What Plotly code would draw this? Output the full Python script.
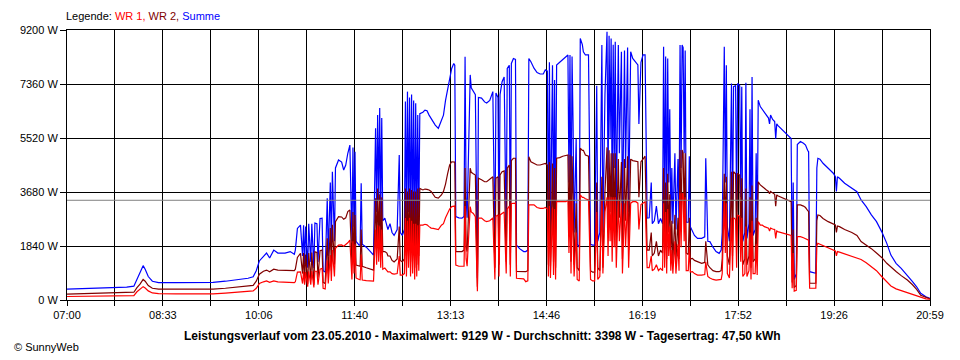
import numpy as np
import plotly.graph_objects as go

# ---- data (minutes after 07:00, power in W) ----
t_min = [0, 19, 39, 58, 65, 68, 71, 74, 76, 79,
         83, 89, 106, 125, 142, 154, 166, 176, 181, 184,
         187, 191, 194, 197, 201, 205, 212, 217, 221, 222,
         224, 227, 229, 230, 231, 232, 234, 235, 237, 238,
         240, 241, 243, 244, 246, 248, 249, 251, 253, 254,
         256, 257, 258, 260, 261, 264, 267, 269, 271, 273,
         275, 277, 278, 279, 280, 281, 284, 285, 286, 287,
         291, 295, 298, 300, 301, 302, 303, 304, 305, 306,
         307, 309, 311, 312, 314, 316, 318, 321, 323, 324,
         326, 328, 329, 330, 331, 332, 333, 334, 335, 336,
         337, 338, 339, 340, 341, 342, 343, 346, 348, 350,
         352, 354, 356, 358, 361, 364, 366, 368, 370, 372,
         374, 376, 377, 378, 381, 384, 386, 387, 388, 389,
         392, 393, 395, 397, 399, 400, 403, 406, 408, 411,
         414, 416, 417, 419, 420, 421, 423, 425, 427, 428,
         430, 431, 432, 434, 436, 437, 440, 444, 446, 448,
         449, 451, 454, 457, 460, 463, 465, 467, 468, 469,
         470, 472, 473, 474, 475, 476, 479, 482, 485, 487,
         488, 489, 490, 491, 492, 493, 495, 496, 498, 499,
         501, 502, 504, 507, 509, 511, 513, 515, 516, 518,
         520, 521, 523, 525, 526, 527, 528, 529, 530, 531,
         532, 533, 534, 536, 537, 539, 540, 542, 543, 545,
         546, 548, 550, 553, 555, 556, 558, 560, 562, 564,
         566, 568, 569, 571, 573, 575, 577, 579, 580, 581,
         582, 583, 584, 585, 586, 587, 588, 589, 591, 592,
         594, 595, 596, 597, 598, 599, 600, 601, 602, 604,
         605, 606, 608, 610, 613, 617, 620, 621, 623, 625,
         628, 631, 634, 636, 637, 639, 640, 641, 642, 644,
         646, 647, 648, 650, 651, 652, 654, 655, 656, 657,
         659, 660, 661, 663, 664, 665, 666, 667, 669, 670,
         671, 672, 674, 676, 678, 680, 682, 683, 684, 686,
         688, 689, 690, 691, 694, 697, 700, 703, 704, 705,
         706, 707, 709, 710, 713, 716, 718, 720, 721, 722,
         726, 728, 729, 730, 732, 735, 740, 745, 747, 748,
         749, 751, 756, 763, 768, 772, 777, 782, 787, 792,
         797, 801, 806, 811, 817, 822, 826, 830, 835, 839]

summe = [370, 390, 410, 440, 470, 700, 900, 1170, 1050, 800,
         640, 590, 590, 590, 600, 640, 690, 740, 790, 1000,
         1330, 1480, 1600, 1430, 1700, 1600, 1600, 1650, 1560, 1700,
         2440, 2550, 1500, 2550, 1200, 2500, 1100, 2600, 1300, 2600,
         1080, 2620, 2600, 1300, 2780, 2790, 1000, 950, 3470, 1500,
         4000, 1700, 4370, 2000, 4500, 4770, 4700, 4430, 4600, 5000,
         5280, 2000, 5200, 2500, 5050, 2000, 1870, 1870, 3980, 1900,
         1800, 1650, 1530, 5850, 3000, 6300, 3400, 6540, 2800, 6200,
         2700, 2790, 2550, 2400, 2600, 2300, 2200, 2400, 4940, 2300,
         2200, 2400, 6760, 2500, 7100, 3000, 6900, 2200, 7000, 2600,
         6800, 2000, 6700, 2500, 6300, 2700, 6350, 6400, 6470, 6450,
         6300, 6190, 6050, 5960, 5850, 6130, 6300, 6800, 7210, 7610,
         7890, 8060, 8000, 2840, 2800, 2790, 2850, 8290, 3500, 2800,
         7670, 7230, 7100, 7000, 750, 6900, 6880, 6750, 6710, 6800,
         7100, 1900, 7050, 6900, 2100, 7000, 7440, 7600, 2200, 7890,
         8000, 2000, 8060, 8230, 8200, 1870, 1750, 1650, 1650, 1700,
         8230, 8120, 7900, 7750, 7700, 7700, 7840, 7800, 2330, 8100,
         2300, 8000, 2500, 7500, 2400, 8010, 8100, 8200, 8300, 8350,
         4000, 8350, 2300, 8300, 6000, 2300, 5500, 1900, 1800, 8910,
         8700, 8460, 8350, 8350, 1900, 1870, 1870, 7300, 2000, 2300,
         8690, 2300, 7000, 9140, 4000, 9000, 5500, 8910, 3500, 8700,
         4500, 8800, 3000, 8690, 5000, 8460, 2500, 8500, 4500, 8600,
         3000, 8460, 8230, 8100, 8010, 6000, 8100, 8350, 8350, 2790,
         2800, 4000, 2600, 2700, 3200, 2600, 2780, 2600, 8630, 3000,
         8300, 2500, 8230, 4000, 6500, 2700, 4500, 2600, 5000, 2400,
         4800, 2600, 8690, 4500, 8690, 8600, 5000, 8500, 2650, 2650,
         4900, 2500, 2330, 2200, 2100, 2100, 2150, 4830, 2000, 1990,
         1800, 1650, 1590, 1700, 2300, 8630, 4000, 8000, 2500, 2000,
         7380, 2500, 7270, 7300, 3000, 7380, 7300, 3500, 7270, 2000,
         2300, 7400, 2100, 2600, 6500, 1800, 7600, 2200, 2400, 5000,
         2100, 6810, 6590, 6500, 6420, 6300, 6200, 6000, 6300, 6150,
         6080, 5500, 6000, 5950, 5850, 5740, 5650, 5560, 5500, 1000,
         4000, 700, 900, 5300, 5400, 5340, 5280, 5100, 5050, 965,
         910, 910, 4500, 4830, 4800, 4660, 4490, 4320, 4200, 3700,
         4200, 4150, 3980, 3810, 3690, 3410, 3180, 2900, 2670, 2330,
         1930, 1530, 1250, 1080, 850, 625, 450, 230, 110, 55]

wr2 = [200, 215, 230, 245, 265, 420, 540, 705, 640, 490,
       400, 370, 365, 365, 370, 400, 440, 470, 500, 640,
       880, 980, 1020, 960, 1050, 1020, 1010, 1020, 1000, 1050,
       1450, 1590, 900, 1600, 600, 1550, 550, 1600, 700, 1620,
       520, 1640, 1620, 760, 1680, 1700, 600, 560, 2100, 900,
       2450, 1000, 2560, 1200, 2670, 2840, 2830, 2750, 2800, 3010,
       3070, 1200, 3000, 1300, 2900, 1190, 1150, 1150, 2400, 1150,
       1100, 1050, 1020, 3470, 1800, 3800, 2000, 3600, 1700, 3500,
       1650, 1650, 1600, 1500, 1500, 1350, 1300, 1400, 2500, 1350,
       1300, 1400, 3800, 1500, 3700, 1700, 3800, 1300, 3750, 1500,
       3700, 1100, 3700, 1200, 3800, 1500, 3800, 3750, 3780, 3770,
       3750, 3700, 3600, 3500, 3470, 3580, 3700, 3950, 4300, 4600,
       4710, 4710, 4700, 1650, 1650, 1650, 1700, 4500, 1800, 1650,
       4490, 4350, 4300, 4260, 450, 4150, 4100, 4030, 4030, 4100,
       4200, 1100, 4150, 4200, 1200, 4260, 4370, 4400, 1300, 4490,
       4600, 1200, 4750, 4830, 4830, 970, 965, 965, 965, 1000,
       4880, 4710, 4650, 4600, 4600, 4620, 4650, 4600, 1200, 4700,
       1150, 4650, 1300, 4500, 1100, 4830, 4850, 4900, 4940, 4940,
       2200, 4950, 1300, 4900, 3500, 1200, 3300, 1100, 1000, 5170,
       5100, 5100, 4940, 4900, 1000, 950, 950, 4000, 1100, 1000,
       4200, 1100, 3700, 5200, 2300, 5100, 3000, 5000, 2000, 5000,
       2600, 5000, 1800, 4800, 2800, 4700, 1400, 4800, 2700, 4900,
       1700, 4800, 4750, 4720, 4710, 3500, 4710, 4800, 4900, 1700,
       1700, 2300, 1500, 1600, 2000, 1500, 1700, 1600, 4500, 1700,
       4000, 1400, 4300, 2300, 3600, 1500, 2700, 1300, 2900, 1300,
       2800, 1400, 5110, 2600, 5110, 5000, 2900, 5000, 1600, 1550,
       2800, 1400, 1420, 1350, 1300, 1250, 1280, 2000, 1200, 1100,
       1000, 965, 965, 1000, 1400, 4300, 2400, 4200, 1500, 1200,
       4370, 1500, 4370, 4300, 1800, 4300, 4260, 2000, 4150, 1200,
       1400, 3800, 1200, 1500, 3500, 1100, 3900, 1300, 1400, 2800,
       1300, 4030, 3920, 3850, 3810, 3750, 3700, 3620, 3700, 3650,
       3600, 3200, 3580, 3550, 3500, 3450, 3400, 3350, 3350, 600,
       2400, 420, 500, 3240, 3240, 3200, 3150, 3050, 3010, 570,
       570, 570, 2700, 2900, 2880, 2780, 2670, 2580, 2560, 2300,
       2520, 2500, 2400, 2300, 2200, 1990, 1880, 1750, 1600, 1450,
       1250, 1110, 970, 830, 680, 520, 360, 160, 80, 40]

wr1 = [120, 125, 130, 140, 150, 280, 360, 455, 410, 310,
       240, 215, 210, 205, 210, 235, 260, 290, 310, 400,
       560, 620, 650, 600, 650, 620, 600, 610, 590, 620,
       950, 960, 560, 970, 520, 950, 450, 980, 520, 990,
       430, 980, 980, 520, 1050, 1080, 400, 380, 1350, 560,
       1530, 650, 1700, 800, 1760, 1870, 1880, 1830, 1880, 1950,
       2040, 700, 2000, 900, 1900, 750, 700, 690, 1550, 680,
       660, 640, 640, 2400, 1200, 2550, 1300, 2500, 1100, 2400,
       1050, 1090, 1000, 960, 960, 900, 880, 900, 1500, 850,
       850, 900, 2790, 800, 2700, 1100, 2800, 800, 2700, 900,
       2600, 700, 2600, 800, 2550, 1000, 2550, 2550, 2580, 2560,
       2500, 2450, 2440, 2420, 2400, 2550, 2600, 2800, 2950, 3100,
       3180, 3200, 3200, 1190, 1150, 1150, 1150, 3200, 1400, 1150,
       3180, 3000, 2950, 2840, 300, 2790, 2790, 2700, 2670, 2700,
       2800, 700, 2850, 2900, 800, 2900, 2950, 3000, 900, 3100,
       3200, 800, 3290, 3290, 3300, 740, 740, 720, 625, 650,
       3240, 3240, 3240, 3150, 3120, 3120, 3150, 3100, 800, 3200,
       750, 3150, 850, 3100, 700, 3350, 3350, 3350, 3350, 3400,
       1600, 3400, 900, 3400, 2400, 800, 2300, 700, 650, 3580,
       3500, 3500, 3450, 3410, 700, 650, 650, 3000, 700, 800,
       3400, 900, 3000, 3500, 1500, 3500, 2000, 3500, 1300, 3500,
       1800, 3500, 1100, 3400, 2000, 3300, 900, 3300, 1800, 3400,
       1100, 3300, 3350, 3350, 3300, 2400, 3250, 3300, 3350, 1100,
       1100, 1500, 1000, 1050, 1200, 1000, 1080, 1000, 3300, 1100,
       3000, 900, 3100, 1500, 2500, 1000, 1700, 900, 2000, 900,
       1900, 1000, 3640, 1800, 3640, 3600, 2000, 3500, 1000, 1000,
       1800, 950, 965, 900, 850, 850, 870, 1300, 800, 750,
       700, 680, 680, 700, 900, 3400, 1600, 3300, 900, 750,
       2800, 1000, 2800, 2750, 1100, 2900, 2850, 1300, 2800, 800,
       900, 2500, 800, 1000, 2300, 700, 2700, 900, 900, 1900,
       850, 2670, 2550, 2550, 2500, 2480, 2450, 2350, 2450, 2420,
       2400, 2100, 2350, 2330, 2300, 2250, 2220, 2210, 2200, 400,
       1600, 300, 330, 2160, 2160, 2120, 2080, 2050, 2040, 400,
       400, 400, 1850, 1930, 1900, 1850, 1760, 1700, 1670, 1500,
       1650, 1630, 1570, 1500, 1430, 1380, 1270, 1150, 1000, 800,
       625, 480, 380, 320, 260, 190, 140, 80, 40, 25]

x_tick_labels = ["07:00", "08:33", "10:06", "11:40", "13:13",
                 "14:46", "16:19", "17:52", "19:26", "20:59"]
y_tick_values = [0, 1840, 3680, 5520, 7360, 9200]
average_w = 3398
span_min = 839  # 07:00 .. 20:59

title_text = ("Leistungsverlauf vom 23.05.2010 - Maximalwert: 9129 W - "
              "Durchschnitt: 3398 W - Tagesertrag: 47,50 kWh")

# ---- figure ----
# the page body has an 8px default margin, so the figure is 8px smaller
FONT = "Liberation Sans, Arial, sans-serif"
n_grid = 2 * (len(x_tick_labels) - 1) + 1
x_grid = np.linspace(0, span_min, n_grid)
x_text = [x_tick_labels[i // 2] if i % 2 == 0 else "" for i in range(n_grid)]

fig = go.Figure()
for name, vals, color in [("Summe", summe, "#0000FF"),
                          ("WR 2", wr2, "#800000"),
                          ("WR 1", wr1, "#FF0000")]:
    fig.add_trace(go.Scatter(x=t_min, y=vals, mode="lines", name=name,
                             line=dict(color=color, width=1.2),
                             showlegend=False, hoverinfo="skip"))

fig.add_shape(type="line", xref="paper", x0=0, x1=1, yref="y",
              y0=average_w, y1=average_w,
              line=dict(color="#808080", width=1), layer="above")

fig.update_layout(
    width=952, height=352,
    margin=dict(l=52, r=30, t=22, b=60),
    paper_bgcolor="white", plot_bgcolor="white",
    font=dict(family=FONT, size=11, color="black"),
    showlegend=False,
    xaxis=dict(range=[0, span_min], tickmode="array", tickvals=x_grid,
               ticktext=x_text, showgrid=True, gridcolor="black",
               gridwidth=1, zeroline=False, showline=True,
               linecolor="black", linewidth=1, mirror=True,
               ticks="outside", ticklen=5, tickcolor="black",
               tickfont=dict(family=FONT, size=11, color="black")),
    yaxis=dict(range=[0, 9200], tickmode="array", tickvals=y_tick_values,
               ticktext=[f"{v} W" for v in y_tick_values], showgrid=True,
               gridcolor="black", gridwidth=1, zeroline=False,
               showline=True, linecolor="black", linewidth=1, mirror=True,
               ticks="outside", ticklen=6, tickcolor="black",
               tickfont=dict(family=FONT, size=11, color="black")),
)

legend_html = ("Legende: <span style='color:#FF0000'>WR 1,</span> "
               "<span style='color:#800000'>WR 2,</span> "
               "<span style='color:#0000FF'>Summe</span>")
fig.add_annotation(xref="paper", yref="paper", x=-0.004, y=1.05,
                   xanchor="left", yanchor="middle", showarrow=False,
                   text=legend_html, font=dict(family=FONT, size=11, color="black"))
fig.add_annotation(xref="paper", yref="paper", x=0.482, y=-0.135,
                   xanchor="center", yanchor="middle", showarrow=False,
                   text="<b>" + title_text + "</b>",
                   font=dict(family=FONT, size=12, color="black"))
fig.add_annotation(xref="paper", yref="paper", x=-0.064, y=-0.175,
                   xanchor="left", yanchor="middle", showarrow=False,
                   text="© SunnyWeb", font=dict(family=FONT, size=11, color="black"))

fig.write_html("out.html")
